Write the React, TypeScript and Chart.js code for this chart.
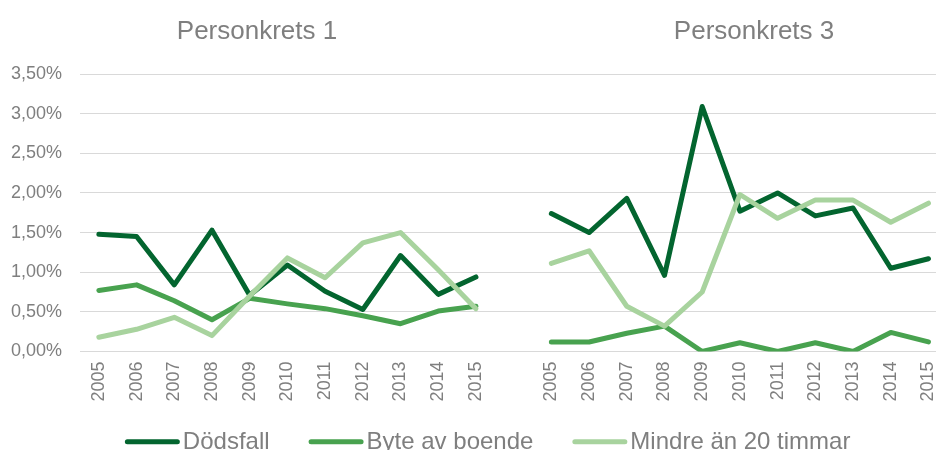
import React, { useEffect, useRef } from 'react';
import { Chart, registerables } from 'chart.js';

Chart.register(...registerables);

const years = ['2005', '2006', '2007', '2008', '2009', '2010', '2011', '2012', '2013', '2014', '2015'];
const panelTitles = ['Personkrets 1', 'Personkrets 3'];
const seriesNames = ['Dödsfall', 'Byte av boende', 'Mindre än 20 timmar'];
const seriesColors = ['#03652f', '#48a24f', '#a8d39e'];

// values in percent
const dodsfallP1 = [1.48, 1.45, 0.84, 1.53, 0.71, 1.09, 0.76, 0.53, 1.21, 0.72, 0.94];
const byteP1 = [0.77, 0.84, 0.64, 0.4, 0.67, 0.6, 0.54, 0.45, 0.35, 0.51, 0.57];
const mindreP1 = [0.18, 0.28, 0.43, 0.2, 0.7, 1.18, 0.93, 1.37, 1.5, 1.03, 0.54];

const dodsfallP3 = [1.74, 1.5, 1.93, 0.96, 3.09, 1.77, 2.0, 1.71, 1.81, 1.05, 1.17];
const byteP3 = [0.12, 0.12, 0.23, 0.32, 0.0, 0.11, 0.0, 0.11, 0.0, 0.24, 0.12];
const mindreP3 = [1.11, 1.27, 0.57, 0.32, 0.75, 1.98, 1.68, 1.91, 1.91, 1.63, 1.87];

const yTicks = [0, 0.5, 1, 1.5, 2, 2.5, 3, 3.5];

const categoryLabels = [...years, '', ...years];

function toPoints(a: number[], b: number[]) {
  const gap = years.length;
  return [
    ...a.map((v, i) => ({ x: i, y: v })),
    { x: gap, y: null as any },
    ...b.map((v, i) => ({ x: gap + 1 + i, y: v })),
  ];
}

const seriesData = [
  toPoints(dodsfallP1, dodsfallP3),
  toPoints(byteP1, byteP3),
  toPoints(mindreP1, mindreP3),
];

const FONT = '"Liberation Sans", Arial, Helvetica, sans-serif';
const GRAY = '#7f7f7f';

const overlayPlugin = {
  id: 'overlay',
  afterDraw(chart: any) {
    const { ctx, width } = chart;
    ctx.save();
    ctx.fillStyle = GRAY;
    ctx.textBaseline = 'alphabetic';
    // panel titles
    ctx.font = `26px ${FONT}`;
    ctx.textAlign = 'center';
    const titleX = [width * 0.2746, width * 0.8056];
    panelTitles.forEach((t, i) => ctx.fillText(t, titleX[i], 38.5));

    // legend
    ctx.font = `24px ${FONT}`;
    const lineLen = 55;
    const textGap = 3;
    const itemGap = 39;
    const widths = seriesNames.map((n) => lineLen + textGap + ctx.measureText(n).width);
    const total = widths.reduce((s, w) => s + w, 0) + itemGap * (seriesNames.length - 1);
    let x = width * 0.521 - total / 2;
    const ly = 441.7;
    ctx.textAlign = 'left';
    ctx.lineCap = 'round';
    ctx.lineWidth = 5;
    seriesNames.forEach((n, i) => {
      ctx.strokeStyle = seriesColors[i];
      ctx.beginPath();
      ctx.moveTo(x + 2.5, ly);
      ctx.lineTo(x + lineLen - 2.5, ly);
      ctx.stroke();
      ctx.fillStyle = GRAY;
      ctx.fillText(n, x + lineLen + textGap, 449);
      x += widths[i] + itemGap;
    });
    ctx.restore();
  },
};

export default function App() {
  const ref = useRef<HTMLCanvasElement | null>(null);

  useEffect(() => {
    document.body.style.margin = '0';
    if (!ref.current) return;
    Chart.defaults.font.family = FONT;
    const chart = new Chart(ref.current, {
      type: 'line',
      data: {
        datasets: seriesNames.map((name, i) => ({
          label: name,
          data: seriesData[i],
          borderColor: seriesColors[i],
          backgroundColor: seriesColors[i],
          borderWidth: 5,
          borderCapStyle: 'round',
          borderJoinStyle: 'round',
          pointRadius: 0,
          pointHoverRadius: 0,
          tension: 0,
          spanGaps: false,
          order: seriesNames.length - i,
        })) as any,
      },
      options: {
        animation: false,
        responsive: false,
        parsing: true,
        layout: { padding: { top: 74, left: 11, right: 0, bottom: 38.5 } },
        plugins: {
          legend: { display: false },
          tooltip: { enabled: false },
          title: { display: false },
        },
        scales: {
          x: {
            type: 'linear',
            min: -0.5,
            max: 22.2,
            grid: { display: false, drawTicks: false },
            border: { display: false },
            afterBuildTicks: (scale: any) => {
              scale.ticks = categoryLabels.map((_, i) => ({ value: i }));
            },
            afterFit: (scale: any) => {
              scale.paddingLeft = 0;
              scale.paddingRight = 0;
            },
            ticks: {
              autoSkip: false,
              minRotation: 90,
              maxRotation: 90,
              padding: 10,
              color: GRAY,
              font: { size: 18, family: FONT },
              callback: (v: any) => categoryLabels[Math.round(Number(v))] ?? '',
            },
          },
          y: {
            min: 0,
            max: 3.5,
            afterBuildTicks: (scale: any) => {
              scale.ticks = yTicks.map((v) => ({ value: v }));
            },
            afterFit: (scale: any) => {
              scale.width = 69;
            },
            grid: { color: '#d9d9d9', lineWidth: 1, drawTicks: false },
            border: { display: false },
            ticks: {
              padding: 18,
              color: GRAY,
              font: { size: 18, family: FONT },
              callback: (v: any) => Number(v).toFixed(2).replace('.', ',') + '%',
            },
          },
        },
      },
      plugins: [overlayPlugin],
    });
    return () => chart.destroy();
  }, []);

  return (
    <div style={{ width: 936, height: 450 }}>
      <canvas ref={ref} width={936} height={450} style={{ display: 'block' }} />
    </div>
  );
}
